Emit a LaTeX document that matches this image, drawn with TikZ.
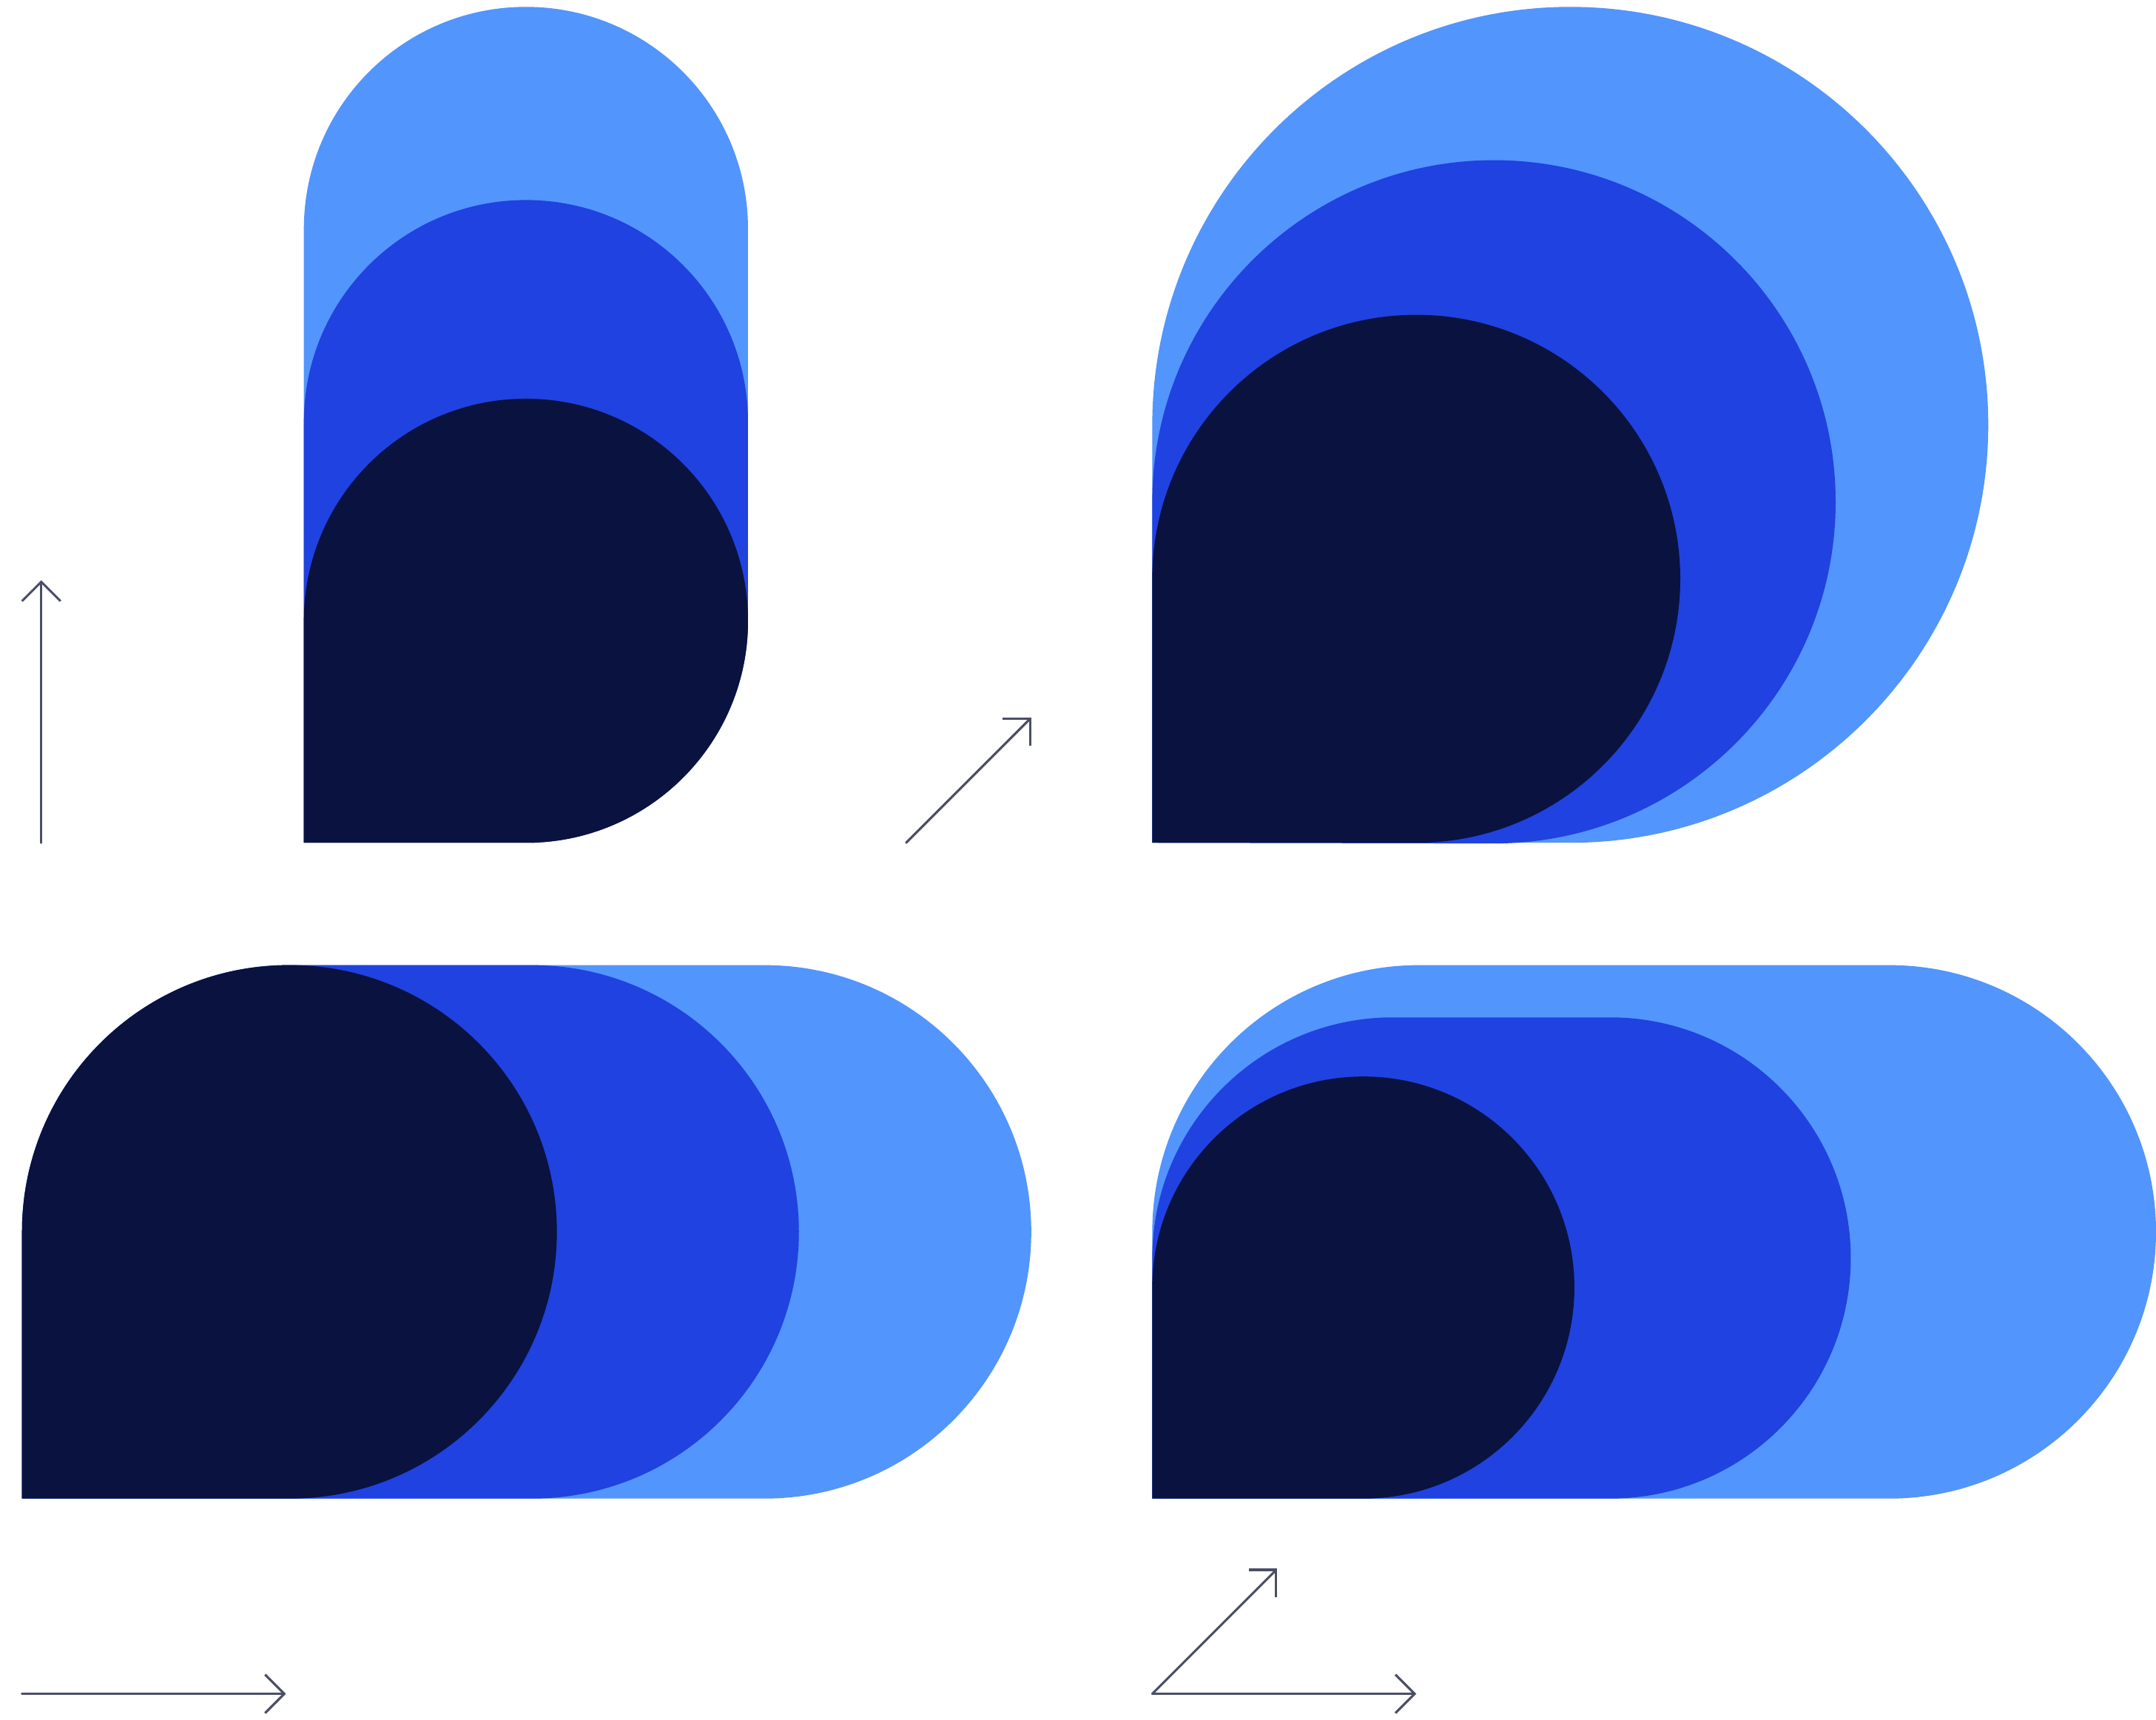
\documentclass[tikz,border=0pt]{standalone}
\usetikzlibrary{arrows.meta}
\definecolor{waveSky}{HTML}{5295FD}
\definecolor{waveBlue}{HTML}{2042E0}
\definecolor{waveNavy}{HTML}{0A1240}
\definecolor{waveInk}{HTML}{4A4E66}
\begin{document}
\begin{tikzpicture}[x=1pt,y=-1pt,line cap=round,line join=round]
\useasboundingbox[fill=white] (0,0) rectangle (1568,1251);
\tikzset{axis/.style={draw=waveInk,line width=1.7pt,-{Straight Barb[length=14pt,width=28pt,line width=1.7pt]}}}
% top left: grow upwards (y runs down, so 270 is up)
\foreach \cy/\col in {166.5/waveSky,307/waveBlue,451.5/waveNavy}
  \fill[\col] (221,613) -- (221,\cy) arc[start angle=180,end angle=360,radius=161.5] -- (544,451.5) arc[start angle=0,end angle=90,radius=161.5] -- cycle;
% top right: grow in both directions
\foreach \cy/\r/\col in {309/304/waveSky,365/248.5/waveBlue,421/192/waveNavy}
  \fill[\col] (838,613) -- (838,\cy) arc[start angle=180,end angle=450,radius=\r] -- cycle;
% bottom left: grow to the right
\foreach \cx/\col in {556/waveSky,387/waveBlue,211/waveNavy}
  \fill[\col] (16,1090) -- (16,896) arc[start angle=180,end angle=270,radius=194] -- (\cx,702) arc[start angle=270,end angle=450,radius=194] -- cycle;
% bottom right: grow both ways, wider than tall
\foreach \cx/\cy/\r/\col in {1374/896/194/waveSky,1171/915/175/waveBlue,991.5/936.5/153.5/waveNavy}
  \fill[\col] (838,1090) -- (838,\cy) arc[start angle=180,end angle=270,radius=\r] -- (\cx,{\cy-\r}) arc[start angle=270,end angle=450,radius=\r] -- cycle;
% direction arrows
\coordinate (upS) at (30,613); \coordinate (upE) at (30,422);
\coordinate (diagS) at (659,613); \coordinate (diagE) at (750,522);
\coordinate (rightS) at (16,1232); \coordinate (rightE) at (208,1232);
\coordinate (bothS) at (838,1232); \coordinate (bothR) at (1030,1232); \coordinate (bothD) at (929,1141);
\draw[axis] (upS) -- (upE);
\draw[axis] (diagS) -- (diagE);
\draw[axis] (rightS) -- (rightE);
\draw[axis] (bothS) -- (bothR);
\draw[axis] (bothS) -- (bothD);
\end{tikzpicture}
\end{document}
